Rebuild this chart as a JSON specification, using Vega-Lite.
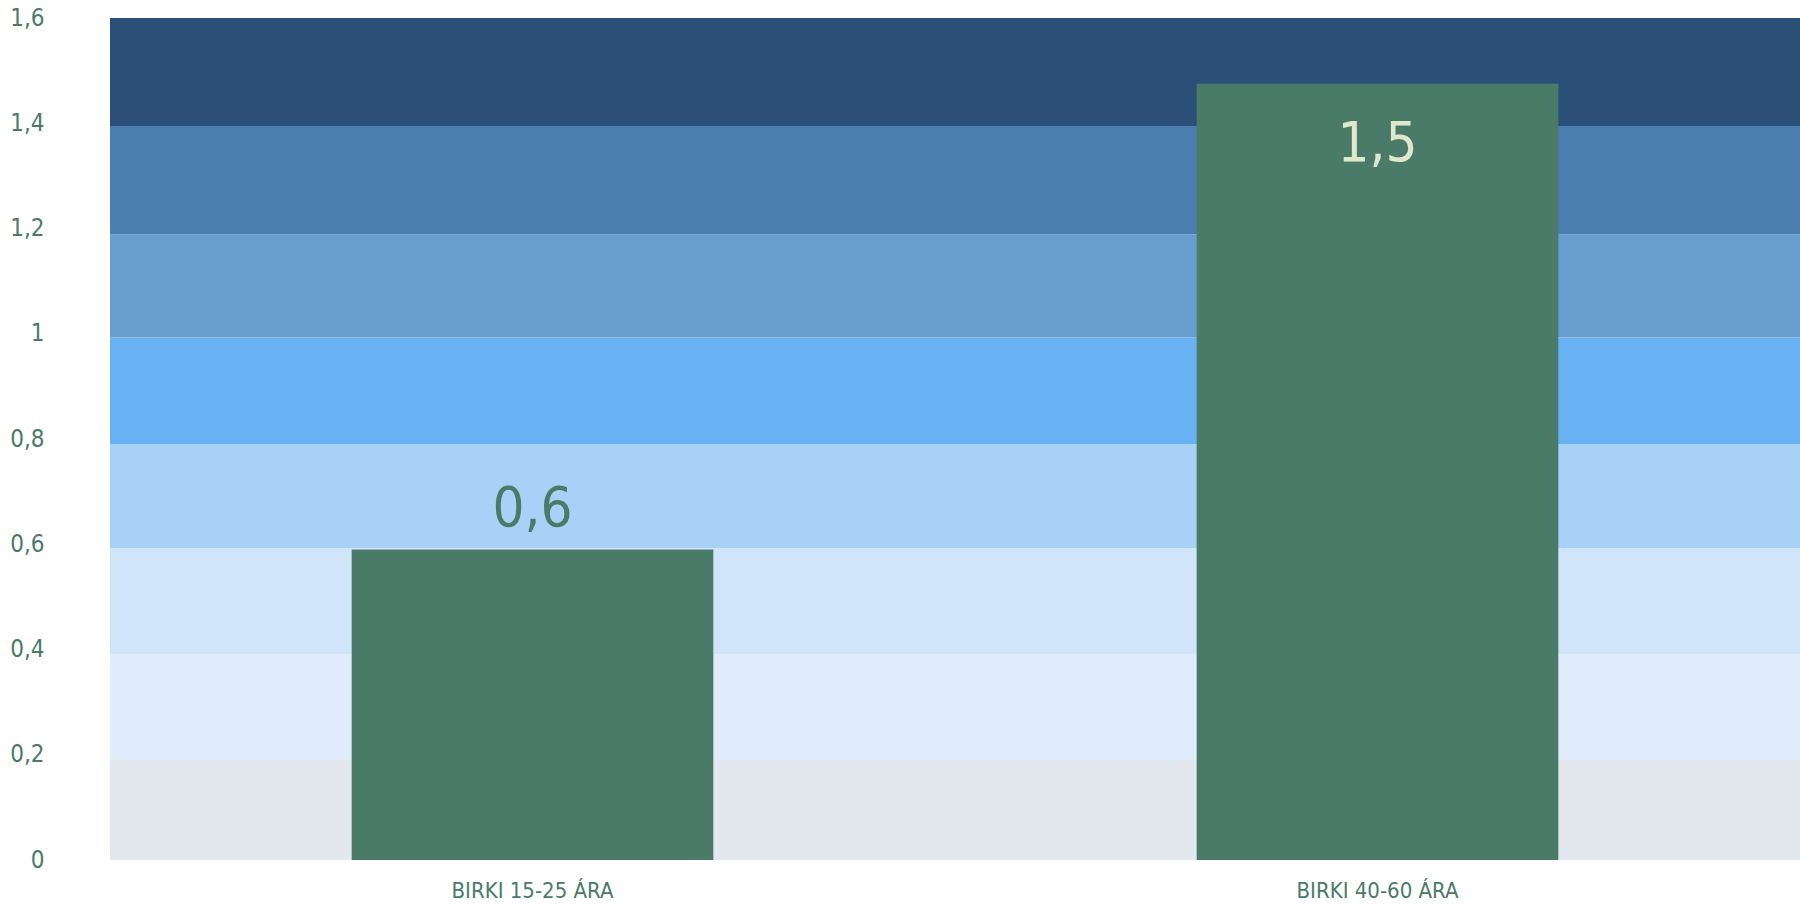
{
  "$schema": "https://vega.github.io/schema/vega-lite/v6.json",
  "autosize": "none",
  "width": 1690,
  "height": 842,
  "padding": {"left": 110, "top": 18, "right": 0, "bottom": 50},
  "background": "white",
  "config": {"view": {"stroke": null}},
  "datasets": {
    "bands": [
      {"lo": 0.0, "hi": 0.19, "color": "#e3e8ee"},
      {"lo": 0.19, "hi": 0.391, "color": "#e0ecfb"},
      {"lo": 0.391, "hi": 0.593, "color": "#d0e4fa"},
      {"lo": 0.593, "hi": 0.79, "color": "#a9d0f6"},
      {"lo": 0.79, "hi": 0.993, "color": "#68b1f3"},
      {"lo": 0.993, "hi": 1.189, "color": "#689dd0"},
      {"lo": 1.189, "hi": 1.395, "color": "#4b7db0"},
      {"lo": 1.395, "hi": 1.6, "color": "#2c4f77"}
    ],
    "bars": [
      {"group": "BIRKI 15-25 ÁRA", "value": 0.59, "label": "0,6"},
      {"group": "BIRKI 40-60 ÁRA", "value": 1.475, "label": "1,5"}
    ]
  },
  "layer": [
    {
      "data": {"name": "bands"},
      "mark": {"type": "rect"},
      "encoding": {
        "y": {"field": "lo", "type": "quantitative", "scale": {"domain": [0, 1.6], "nice": false},
          "axis": {"values": [0, 0.2, 0.4, 0.6, 0.8, 1, 1.2, 1.4, 1.6], "format": ",.1~f", "labelExpr": "replace(datum.label, '.', ',')", "domain": false, "ticks": false, "grid": false, "labelPadding": 66, "labelFont": "DejaVu Sans Condensed, Roboto, sans-serif", "labelFontSize": 24, "labelFontWeight": 300, "labelColor": "#4a7b68", "title": null}},
        "y2": {"field": "hi"},
        "color": {"field": "color", "type": "nominal", "scale": null}
      }
    },
    {
      "data": {"name": "bars"},
      "mark": {"type": "bar", "color": "#4a7b68"},
      "encoding": {
        "x": {"field": "group", "type": "nominal", "sort": null,
          "scale": {"paddingInner": 0.572, "paddingOuter": 0.286},
          "axis": {"labelAngle": 0, "domain": false, "ticks": false, "labelPadding": 20, "labelLimit": 0, "labelFont": "DejaVu Sans Condensed, Roboto, sans-serif", "labelFontSize": 22, "labelFontWeight": 300, "labelColor": "#4a7b68", "title": null}},
        "y": {"field": "value", "type": "quantitative"}
      }
    },
    {
      "data": {"name": "bars"},
      "transform": [{"filter": "datum.value < 1"}],
      "mark": {"type": "text", "font": "DejaVu Sans Condensed, Roboto, sans-serif", "fontSize": 56, "fontWeight": 300, "baseline": "alphabetic", "dy": -24, "color": "#4a7b68"},
      "encoding": {
        "x": {"field": "group", "type": "nominal", "sort": null},
        "y": {"field": "value", "type": "quantitative"},
        "text": {"field": "label"}
      }
    },
    {
      "data": {"name": "bars"},
      "transform": [{"filter": "datum.value >= 1"}],
      "mark": {"type": "text", "font": "DejaVu Sans Condensed, Roboto, sans-serif", "fontSize": 56, "fontWeight": 300, "baseline": "alphabetic", "dy": 77, "color": "#dfe8cc"},
      "encoding": {
        "x": {"field": "group", "type": "nominal", "sort": null},
        "y": {"field": "value", "type": "quantitative"},
        "text": {"field": "label"}
      }
    }
  ]
}
